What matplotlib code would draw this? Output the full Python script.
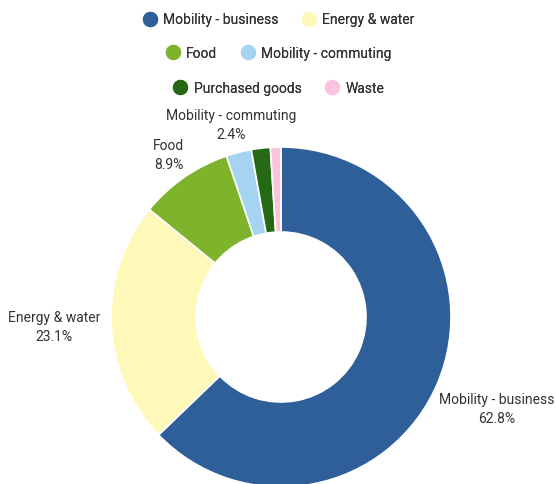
import numpy as np
import matplotlib.pyplot as plt
from matplotlib.lines import Line2D

categories = ["Mobility - business", "Energy & water", "Food",
              "Mobility - commuting", "Purchased goods", "Waste"]
shares = [62.8, 23.1, 8.9, 2.4, 1.8, 1.0]
colors = ["#2E5F99", "#FFF9B9", "#7DB42B", "#A4D4EF", "#256914", "#FAC4DF"]
show_label = [True, True, True, True, False, False]

plt.rcParams['font.family'] = ['Roboto', 'DejaVu Sans']
text_color = "#333333"

fig = plt.figure(figsize=(5.56, 4.85), dpi=100)
ax = fig.add_axes([0, 0, 1, 1])

cx, cy, r = 281, 167, 170
wedges, _ = ax.pie(shares, colors=colors, startangle=90, counterclock=False,
                   center=(cx, cy), radius=r, frame=True,
                   wedgeprops=dict(width=r * 0.5, edgecolor='white', linewidth=1.2))
ax.set_xlim(0, 556)
ax.set_ylim(0, 485)
ax.set_aspect('equal')
ax.axis('off')

# label distance (in radii) per slice, outside the ring
label_dist = [1.38, 1.335, 1.16, 1.17, 1.15, 1.15]
for w, name, val, show, d in zip(wedges, categories, shares, show_label, label_dist):
    if not show:
        continue
    mid = np.deg2rad((w.theta1 + w.theta2) / 2)
    x = cx + d * r * np.cos(mid)
    y = cy + d * r * np.sin(mid)
    ax.text(x, y, f"{name}\n{val}%", ha='center', va='center',
            fontsize=10, color=text_color, linespacing=1.45)

# legend: three centered rows of two
rows = [(0.958, [0, 1]), (0.888, [2, 3]), (0.816, [4, 5])]
for ypos, idx in rows:
    handles = [Line2D([], [], marker='o', linestyle='', markersize=10,
                      markerfacecolor=colors[i], markeredgecolor=colors[i])
               for i in idx]
    leg = fig.legend(handles, [categories[i] for i in idx], loc='center',
                     bbox_to_anchor=(0.5, ypos), ncol=2, frameon=False,
                     fontsize=10, handletextpad=0.35, columnspacing=1.6,
                     handlelength=1.2, labelcolor=text_color)
    fig.add_artist(leg)

fig.savefig("out.png", dpi=100)
